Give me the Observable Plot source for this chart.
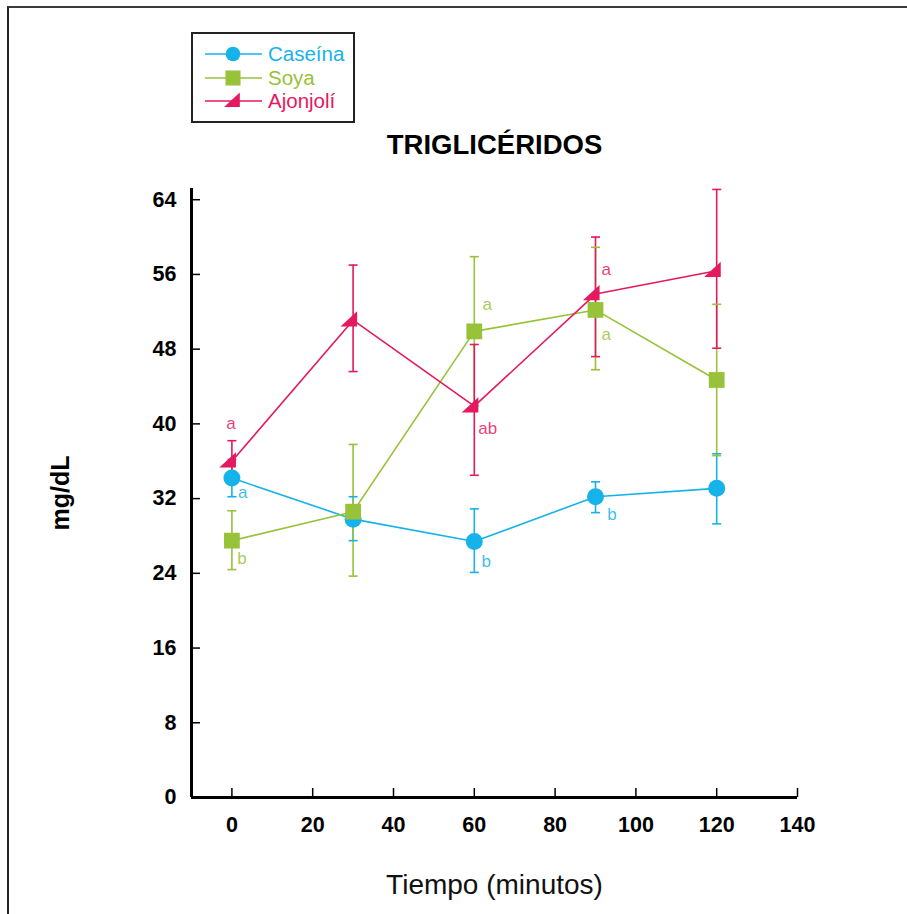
<!DOCTYPE html>
<html>
<head>
<meta charset="utf-8">
<script src="https://cdn.jsdelivr.net/npm/d3@7"></script>
<script src="https://cdn.jsdelivr.net/npm/@observablehq/plot@0.6"></script>
<style>
  html, body { margin: 0; padding: 0; background: #fff; }
  #wrap { position: relative; width: 907px; height: 914px; overflow: hidden; background: #fff; }
  #frame { position: absolute; left: 7px; top: 6px; width: 1000px; height: 1000px;
           border-top: 2.5px solid #3a3a3a; border-left: 2.5px solid #222; }
  #chart { position: absolute; left: 0; top: 0; }
  #legend { position: absolute; left: 0; top: 0; }
</style>
</head>
<body>
<div id="wrap">
  <div id="frame"></div>
  <div id="chart"></div>
  <div id="legend"></div>
</div>
<script>
// ---- data ----
const times = [0, 30, 60, 90, 120];
const series = ["Caseína", "Soya", "Ajonjolí"];
const colors = ["#16b2ea", "#97c23a", "#e4195f"];

const caseinaMedia = [34.2, 29.8, 27.4, 32.2, 33.1];
const caseinaInf   = [32.2, 27.5, 24.1, 30.5, 29.3];
const caseinaSup   = [36.2, 32.2, 30.9, 33.8, 36.8];

const soyaMedia = [27.5, 30.6, 49.9, 52.2, 44.7];
const soyaInf   = [24.4, 23.7, 41.9, 45.8, 36.6];
const soyaSup   = [30.7, 37.8, 57.9, 58.9, 52.8];

const ajonjoliMedia = [36.0, 51.1, 41.9, 53.9, 56.4];
const ajonjoliInf   = [33.8, 45.6, 34.5, 47.2, 48.1];
const ajonjoliSup   = [38.2, 57.0, 48.5, 60.0, 65.1];

const letraSerie = ["Caseína", "Caseína", "Caseína", "Soya", "Soya", "Soya", "Ajonjolí", "Ajonjolí", "Ajonjolí"];
const letraTexto = ["a", "b", "b", "b", "a", "a", "a", "ab", "a"];
const letraX     = [1.5, 61.8, 92.9, 1.3, 62, 91.5, -1.4, 61, 91.5];
const letraY     = [32.6, 25.3, 30.3, 25.6, 52.8, 49.6, 40.0, 39.5, 56.5];

const xTicks = [0, 20, 40, 60, 80, 100, 120, 140];
const yTicks = [0, 8, 16, 24, 32, 40, 48, 56, 64];

const titulo = "TRIGLICÉRIDOS";
const ejeX = "Tiempo (minutos)";
const ejeY = "mg/dL";

// ---- tidy table ----
const medias = [caseinaMedia, soyaMedia, ajonjoliMedia];
const infs = [caseinaInf, soyaInf, ajonjoliInf];
const sups = [caseinaSup, soyaSup, ajonjoliSup];
const rows = [];
series.forEach((s, i) => times.forEach((t, j) => rows.push({serie: s, t, y: medias[i][j], lo: infs[i][j], hi: sups[i][j]})));
const letras = letraTexto.map((l, i) => ({serie: letraSerie[i], label: l, x: letraX[i], y: letraY[i]}));
const colorOf = Object.fromEntries(series.map((s, i) => [s, colors[i]]));

// custom symbols
const wedge = {draw(ctx, size) { const r = Math.sqrt(size / Math.PI);
  ctx.moveTo(0.45 * r, -r); ctx.lineTo(0.45 * r, 0.7 * r); ctx.lineTo(-1.4 * r, 0.7 * r); ctx.closePath(); }};
const cap = {draw(ctx, size) { const r = Math.sqrt(size / Math.PI);
  ctx.moveTo(-r, 0); ctx.lineTo(r, 0); }};
const symbolOf = {"Caseína": "circle", "Soya": "square", "Ajonjolí": wedge};
const rOf = {"Caseína": 8.5, "Soya": 8.9, "Ajonjolí": 9};

const font = "'Liberation Sans', Arial, Helvetica, sans-serif";
const markerOrder = ["Ajonjolí", "Caseína", "Soya"];

const plot = Plot.plot({
  width: 907,
  height: 914,
  marginLeft: 191,
  marginRight: 110,
  marginTop: 188,
  marginBottom: 117,
  x: {domain: [-10, 140]},
  y: {domain: [0, 65.2]},
  style: {fontFamily: font, background: "none", color: "#000"},
  marks: [
    // lines
    ...series.map(s => Plot.line(rows.filter(d => d.serie === s), {x: "t", y: "y", stroke: colorOf[s], strokeWidth: 1.6})),
    // error bars
    ...series.map(s => Plot.ruleX(rows.filter(d => d.serie === s), {x: "t", y1: "lo", y2: "hi", stroke: colorOf[s], strokeWidth: 1.6})),
    ...series.map(s => Plot.dot(rows.filter(d => d.serie === s), {x: "t", y: "hi", symbol: cap, r: 4.5, fill: "none", stroke: colorOf[s], strokeWidth: 1.6})),
    ...series.map(s => Plot.dot(rows.filter(d => d.serie === s), {x: "t", y: "lo", symbol: cap, r: 4.5, fill: "none", stroke: colorOf[s], strokeWidth: 1.6})),
    // markers
    ...markerOrder.map(s => Plot.dot(rows.filter(d => d.serie === s), {x: "t", y: "y", symbol: symbolOf[s], r: rOf[s], fill: colorOf[s], stroke: "none"})),
    // significance letters
    Plot.text(letras, {x: "x", y: "y", text: "label", fill: d => colorOf[d.serie], textAnchor: "start", lineAnchor: "middle", fontSize: 17, fillOpacity: 0.85}),
    // axes
    Plot.axisX({ticks: xTicks, tickSize: 9, dy: -9, tickPadding: 19, fontSize: 21.5, fontWeight: "bold", label: null, strokeWidth: 1.5, letterSpacing: "1.2px"}),
    Plot.axisY({ticks: yTicks, tickSize: 9, dx: 9, tickPadding: 15, fontSize: 21.5, fontWeight: "bold", label: null, strokeWidth: 1.5, letterSpacing: "1.2px"}),
    Plot.ruleY([0], {strokeWidth: 3, stroke: "#000"}),
    Plot.ruleX([-10], {strokeWidth: 3, stroke: "#000"}),
    // titles
    Plot.text([titulo], {frameAnchor: "top", dy: -43, lineAnchor: "middle", textAnchor: "middle", fontSize: 27.5, fontWeight: "bold", fill: "#000", letterSpacing: "-0.6px"}),
    Plot.text([ejeX], {frameAnchor: "bottom", dy: 88, lineAnchor: "middle", textAnchor: "middle", fontSize: 28, fill: "#111"}),
    Plot.text([ejeY], {frameAnchor: "left", dx: -131, rotate: -90, lineAnchor: "middle", textAnchor: "middle", fontSize: 25, fontWeight: "bold", fill: "#000", letterSpacing: "1px"})
  ]
});
document.getElementById("chart").appendChild(plot);

// ---- legend ----
const lg = d3.select("#legend").append("svg").attr("width", 400).attr("height", 140)
  .style("font-family", font);
lg.append("rect").attr("x", 192).attr("y", 33).attr("width", 162).attr("height", 89)
  .attr("fill", "#fff").attr("stroke", "#222").attr("stroke-width", 2);
const rowY = [54, 78, 101];
series.forEach((s, i) => {
  const g = lg.append("g").attr("transform", `translate(0,${rowY[i]})`);
  g.append("line").attr("x1", 205).attr("x2", 262).attr("y1", 0).attr("y2", 0)
    .attr("stroke", colors[i]).attr("stroke-width", 1.6);
  const sym = typeof symbolOf[s] === "string" ? (symbolOf[s] === "circle" ? d3.symbolCircle : d3.symbolSquare) : symbolOf[s];
  const r = i === 0 ? 7.3 : 8.5;
  g.append("path").attr("transform", `translate(${i === 2 ? 236 : 233},0)`)
    .attr("d", d3.symbol(sym, Math.PI * r * r)()).attr("fill", colors[i]);
  g.append("text").attr("x", 268).attr("y", 7).attr("font-size", 20.5).attr("fill", colors[i]).text(s);
});
</script>
</body>
</html>
